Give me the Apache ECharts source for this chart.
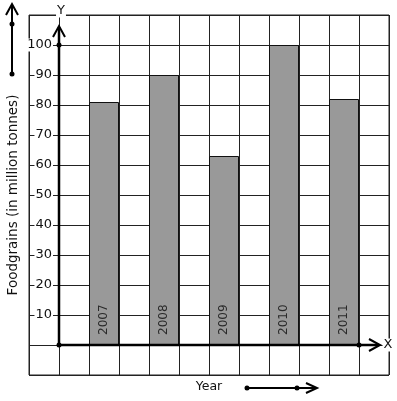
<!DOCTYPE html>
<html>
<head>
<meta charset="utf-8">
<script src="https://cdn.jsdelivr.net/npm/echarts@6/dist/echarts.min.js"></script>
<style>html,body{margin:0;padding:0;background:#fff}#c{width:397px;height:401px}</style>
</head>
<body>
<div id="c"></div>
<script>
// Data
const categories = ['', '', '2007', '', '2008', '', '2009', '', '2010', '', '2011', ''];
const years = ['2007', '2008', '2009', '2010', '2011'];
const values = [81, 90, 63, 100, 82];
const yTickLabels = [10, 20, 30, 40, 50, 60, 70, 80, 90, 100];
const yAxisTitle = 'Foodgrains (in million tonnes)';
const xAxisTitle = 'Year';

const seriesData = categories.map(c => {
  const i = years.indexOf(c);
  return i >= 0 ? values[i] : null;
});

const FONT = 'DejaVu Sans';
const chart = echarts.init(document.getElementById('c'), null, {renderer: 'canvas'});
chart.setOption({
  animation: false,
  backgroundColor: '#fff',
  grid: {left: 29, right: 8, top: 15, bottom: 26, containLabel: false, outerBoundsMode: 'none',
    show: true, borderColor: '#222', borderWidth: 1, backgroundColor: 'transparent'},
  xAxis: {
    type: 'category', data: categories, boundaryGap: true,
    axisLine: {show: false}, axisTick: {show: false}, axisLabel: {show: false},
    splitLine: {show: true, interval: 0, lineStyle: {color: '#222', width: 1}}
  },
  yAxis: [{
    type: 'value', min: -10, max: 110, interval: 10,
    axisLine: {show: false}, axisTick: {show: false},
    axisLabel: {show: false},
    splitLine: {show: true, lineStyle: {color: '#222', width: 1}},
    name: yAxisTitle, nameLocation: 'middle', nameGap: 9, nameRotate: 90,
    nameTextStyle: {fontFamily: FONT, fontSize: 13.5, color: '#111'}
  }, {
    type: 'value', min: -10, max: 110, interval: 10, position: 'left', z: 5,
    axisLine: {show: false}, axisTick: {show: false}, splitLine: {show: false},
    axisLabel: {
      inside: true, align: 'right', margin: 24,
      fontFamily: FONT, fontSize: 13, color: '#111',
      backgroundColor: '#fff', padding: [0, 1],
      formatter: v => yTickLabels.indexOf(v) >= 0 ? String(v) : ''
    }
  }],
  series: [{
    type: 'bar', data: seriesData, barWidth: '100%', yAxisIndex: 0,
    itemStyle: {color: '#999999', borderColor: '#111', borderWidth: 1},
    label: {
      show: true, position: 'insideBottom', rotate: 90, align: 'left', verticalAlign: 'middle',
      distance: 10, fontFamily: FONT, fontSize: 12, color: '#2a2a2a',
      formatter: p => p.name
    }
  }]
});

const P = (c, v) => chart.convertToPixel({gridIndex: 0}, [c, v]);
const ox = (P(0, 0)[0] + P(1, 0)[0]) / 2;
const y0 = P(0, 0)[1];
const y100 = P(0, 100)[1];
const yTip = P(0, 106.3)[1];
const xDot = (P(10, 0)[0] + P(11, 0)[0]) / 2;
const xTip = xDot + 21;
const stroke = {stroke: '#000', lineWidth: 2.5, fill: null};
const thin = {stroke: '#000', lineWidth: 2, fill: null};
const g = [];
// Y axis
g.push({type: 'line', shape: {x1: ox, y1: y0, x2: ox, y2: yTip + 1}, style: stroke, z: 100});
g.push({type: 'polyline', shape: {points: [[ox - 6, yTip + 11], [ox, yTip], [ox + 6, yTip + 11]]}, style: thin, z: 100});
g.push({type: 'circle', shape: {cx: ox, cy: y100, r: 2.5}, style: {fill: '#000'}, z: 100});
g.push({type: 'circle', shape: {cx: ox, cy: y0, r: 2.5}, style: {fill: '#000'}, z: 100});
// X axis
g.push({type: 'line', shape: {x1: ox, y1: y0, x2: xTip - 1, y2: y0}, style: stroke, z: 100});
g.push({type: 'polyline', shape: {points: [[xTip - 11, y0 - 6], [xTip, y0], [xTip - 11, y0 + 6]]}, style: thin, z: 100});
g.push({type: 'circle', shape: {cx: xDot, cy: y0, r: 2.5}, style: {fill: '#000'}, z: 100});
g.push({type: 'text', style: {text: 'X', x: xTip + 8, y: y0, align: 'center', verticalAlign: 'middle', font: '13px ' + FONT, fill: '#111', backgroundColor: '#fff', padding: [0, 1]}, z: 100});
g.push({type: 'text', style: {text: 'Y', x: ox + 2, y: 11, align: 'center', verticalAlign: 'middle', font: '13px ' + FONT, fill: '#111', backgroundColor: '#fff', padding: [0, 1]}, z: 100});
// Decorative arrows
g.push({type: 'line', shape: {x1: 12, y1: 74, x2: 12, y2: 5}, style: thin, z: 100});
g.push({type: 'polyline', shape: {points: [[6, 15], [12, 4], [18, 15]]}, style: thin, z: 100});
g.push({type: 'circle', shape: {cx: 12, cy: 24, r: 2.5}, style: {fill: '#000'}, z: 100});
g.push({type: 'circle', shape: {cx: 12, cy: 74, r: 2.5}, style: {fill: '#000'}, z: 100});
g.push({type: 'line', shape: {x1: 247, y1: 388, x2: 316, y2: 388}, style: thin, z: 100});
g.push({type: 'polyline', shape: {points: [[306, 383], [317, 388], [306, 393]]}, style: thin, z: 100});
g.push({type: 'circle', shape: {cx: 247, cy: 388, r: 2.5}, style: {fill: '#000'}, z: 100});
g.push({type: 'circle', shape: {cx: 297, cy: 388, r: 2.5}, style: {fill: '#000'}, z: 100});
g.push({type: 'text', style: {text: xAxisTitle, x: 209, y: 387, align: 'center', verticalAlign: 'middle', font: '12.5px ' + FONT, fill: '#111'}, z: 100});
chart.setOption({graphic: g});
</script>
</body>
</html>
